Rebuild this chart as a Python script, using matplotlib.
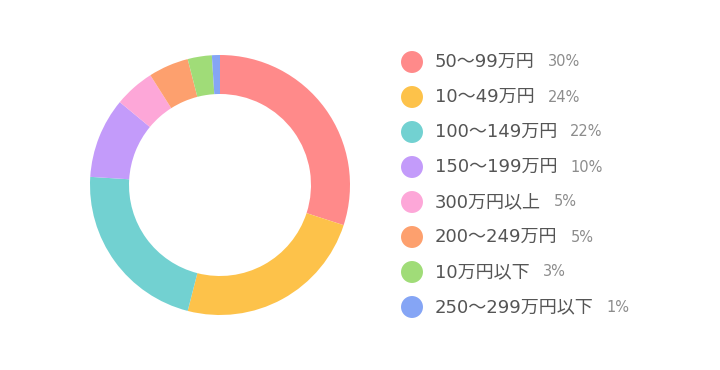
import numpy as np
from matplotlib import pyplot as plt

plt.rcParams['font.family'] = ['DejaVu Sans', 'Noto Sans CJK JP']

labels = ['50～99万円', '10～49万円', '100～149万円', '150～199万円',
          '300万円以上', '200～249万円', '10万円以下', '250～299万円以下']
shares = [30, 24, 22, 10, 5, 5, 3, 1]
colors = ['#FF8A8A', '#FDC24A', '#72D1D1', '#C39BFA',
          '#FDA7D8', '#FDA06E', '#A0DC78', '#85A5F5']

W, H = 720, 370
fig = plt.figure(figsize=(W / 100, H / 100), dpi=100)

# donut
ax = fig.add_axes([90 / W, (H - 185 - 130) / H, 260 / W, 260 / H])
ax.pie(shares, colors=colors, startangle=90, counterclock=False, radius=1,
       wedgeprops=dict(width=0.3, edgecolor='none'))
ax.set_xlim(-1, 1)
ax.set_ylim(-1, 1)
ax.set_aspect('equal')
ax.axis('off')

# legend drawn by hand, pixel coordinates
lax = fig.add_axes([0, 0, 1, 1])
lax.set_xlim(0, W)
lax.set_ylim(H, 0)
lax.axis('off')

rows = 62 + 35 * np.arange(len(labels))
lax.scatter([412] * len(labels), rows, s=250, c=colors, edgecolors='none')

fig.canvas.draw()
renderer = fig.canvas.get_renderer()
for y, lab, pct in zip(rows, labels, shares):
    t = lax.text(435, y, lab, fontsize=13, color='#555555', va='center', ha='left')
    bb = t.get_window_extent(renderer=renderer)
    lax.text(bb.x1 + 13, y, f'{pct}%', fontsize=10.5, color='#8c8c8c',
             va='center', ha='left')

fig.savefig('out.png', dpi=100)
